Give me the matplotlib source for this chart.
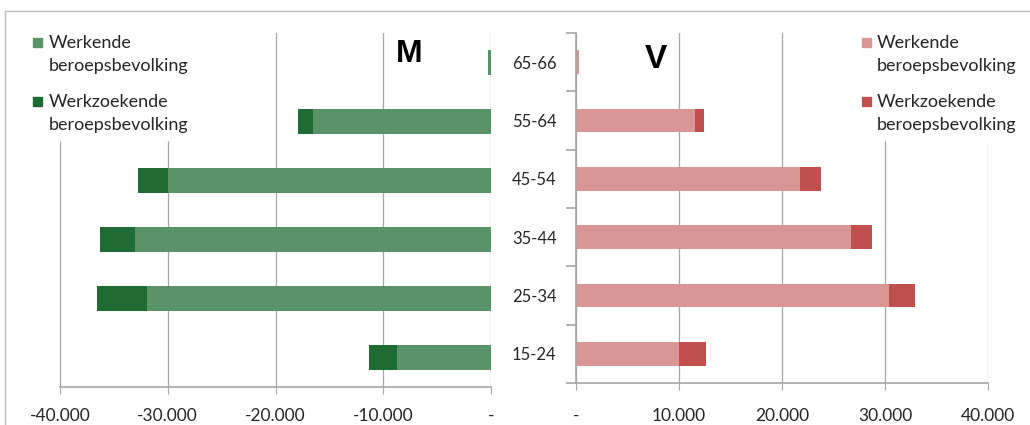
import matplotlib
matplotlib.use("Agg")
import matplotlib.pyplot as plt
from matplotlib.ticker import FuncFormatter, FixedLocator
from matplotlib.lines import Line2D
from matplotlib.patches import Rectangle
import numpy as np

categories = ["15-24", "25-34", "35-44", "45-54", "55-64", "65-66"]
m_werkend = [8700, 31900, 33000, 30000, 16500, 280]
m_werkzoekend = [2600, 4700, 3300, 2800, 1400, 0]
v_werkend = [10000, 30400, 26700, 21700, 11550, 250]
v_werkzoekend = [2600, 2500, 2000, 2100, 900, 0]
left_ticks = [-40000, -30000, -20000, -10000, 0]
right_ticks = [0, 10000, 20000, 30000, 40000]
legend_labels = ["Werkende\nberoepsbevolking", "Werkzoekende\nberoepsbevolking"]

c_mw, c_mz = "#5A9367", "#1E6B34"
c_vw, c_vz = "#DA9694", "#C0504D"
grid_c = "#A6A6A6"
txt_c = "#262626"
font = "Lato"

plt.rcParams['font.family'] = [font, 'DejaVu Sans']

fig = plt.figure(figsize=(10.3, 4.25), dpi=100)
W, H = 1030, 425
axL = fig.add_axes([60 / W, 1 - 387 / H, 431 / W, (387 - 33) / H])
axR = fig.add_axes([576 / W, 1 - 383 / H, 412 / W, (383 - 33) / H])

y = np.arange(len(categories))
bh = 0.41

def fmt(v, pos):
    if v == 0:
        return "-"
    s = f"{int(abs(v)):,}".replace(",", ".")
    return ("-" if v < 0 else "") + s

# Left (men)
mw = -np.array(m_werkend)
mz = -np.array(m_werkzoekend)
axL.barh(y, mw, height=bh, color=c_mw, zorder=2)
axL.barh(y, mz, left=mw, height=bh, color=c_mz, zorder=2)
axL.set_xlim(-40000, 0)
axL.set_ylim(-0.5, len(categories) - 0.5)
axL.xaxis.set_major_locator(FixedLocator(left_ticks))
axL.xaxis.set_major_formatter(FuncFormatter(fmt))
axL.set_yticks([])
for v in left_ticks:
    axL.axvline(v, color=grid_c, lw=0.9, zorder=1)
for s in ["top", "left", "right"]:
    axL.spines[s].set_visible(False)
axL.spines["bottom"].set_color(grid_c)
axL.spines["bottom"].set_linewidth(1.2)
axL.tick_params(axis="x", length=5, color=grid_c, labelsize=12.5, pad=10, labelcolor=txt_c)

# Right (women)
axR.barh(y, v_werkend, height=bh, color=c_vw, zorder=2)
axR.barh(y, v_werkzoekend, left=v_werkend, height=bh, color=c_vz, zorder=2)
axR.set_xlim(0, 40000)
axR.set_ylim(-0.5, len(categories) - 0.5)
axR.xaxis.set_major_locator(FixedLocator(right_ticks))
axR.xaxis.set_major_formatter(FuncFormatter(fmt))
for v in right_ticks:
    axR.axvline(v, color=grid_c, lw=0.9, zorder=1)
for s in ["top", "right"]:
    axR.spines[s].set_visible(False)
for s in ["bottom", "left"]:
    axR.spines[s].set_color(grid_c)
    axR.spines[s].set_linewidth(1.2)
axR.tick_params(axis="x", length=5, color=grid_c, labelsize=12.5, pad=13, labelcolor=txt_c)
axR.set_yticks(y)
axR.set_yticklabels(categories)
axR.set_yticks(np.arange(-0.5, len(categories), 1.0), minor=True)
axR.tick_params(axis="y", which="major", length=0, labelsize=12, pad=14, labelcolor=txt_c)
axR.tick_params(axis="y", which="minor", length=7, color=grid_c, width=1.2)

# Labels M / V
fig.text(409 / W, 1 - 54.5 / H, "M", fontsize=23, fontweight="bold",
         family="Liberation Sans", ha="center", va="center")
fig.text(655.5 / W, 1 - 60 / H, "V", fontsize=24, fontweight="bold",
         family="Liberation Sans", ha="center", va="center")

# white boxes covering the gridlines behind legends
fig.add_artist(Rectangle((25 / W, 1 - 140 / H), 170 / W, 110 / H,
                         transform=fig.transFigure, color="white", zorder=3))
fig.add_artist(Rectangle((855 / W, 1 - 140 / H), 170 / W, 110 / H,
                         transform=fig.transFigure, color="white", zorder=3))

# Legends (square beside the first text line)
def legend2(x_sq, x_txt, colors):
    for i, (c, lab) in enumerate(zip(colors, legend_labels)):
        ytop = 38 + i * 59
        fig.add_artist(Rectangle((x_sq / W, 1 - (ytop + 9) / H), 9 / W, 9 / H,
                                 transform=fig.transFigure, color=c, zorder=4))
        first, second = lab.split("\n")
        fig.text(x_txt / W, 1 - (ytop + 5) / H, first, fontsize=13, color=txt_c,
                 ha="left", va="center", zorder=5)
        fig.text(x_txt / W, 1 - (ytop + 28) / H, second, fontsize=13, color=txt_c,
                 ha="left", va="center", zorder=5)

legend2(33, 49, [c_mw, c_mz])
legend2(862, 877, [c_vw, c_vz])

# Frame lines
fig.add_artist(Line2D([5 / W, 5 / W], [0, 1 - 11 / H], transform=fig.transFigure, color="#BFBFBF", lw=1))
fig.add_artist(Line2D([5 / W, 1], [1 - 11 / H, 1 - 11 / H], transform=fig.transFigure, color="#BFBFBF", lw=1))

fig.savefig("out.png", dpi=100)
